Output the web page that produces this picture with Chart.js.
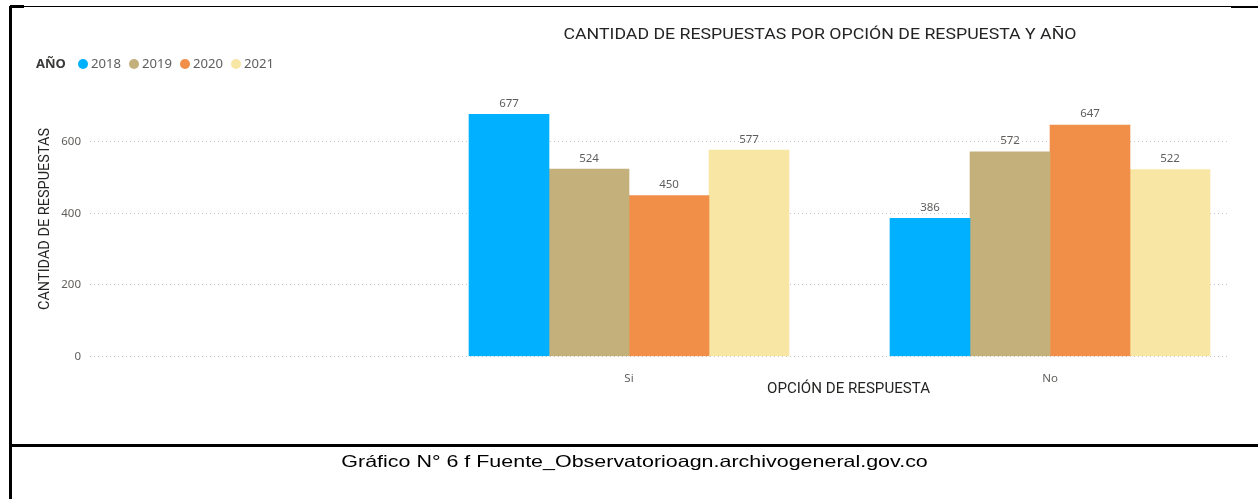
<!DOCTYPE html>
<html>
<head>
<meta charset="utf-8">
<title>Cantidad de respuestas por opción de respuesta y año</title>
<script src="https://cdn.jsdelivr.net/npm/chart.js@4.4.0/dist/chart.umd.min.js"></script>
<style>
	body { margin: 0; background: #fff; }
	#hoja { position: relative; width: 1258px; height: 499px; overflow: hidden; }
	#canvas { position: absolute; left: 0; top: 0; }
	.linea { position: absolute; background: #000; }
	#pie { position: absolute; left: 12px; width: 1246px; top: 452px; text-align: center; }
	#pie span { display: inline-block; transform: scaleX(1.3);
		font-family: "Liberation Sans", Arial, sans-serif; font-size: 16.5px; color: #000; }
</style>
</head>
<body>
<div id="hoja">
	<canvas id="canvas" width="1258" height="499"></canvas>
	<div class="linea" style="left:10px; top:6px; width:1248px; height:1px;"></div>
	<div class="linea" style="left:10px; top:5px; width:14px; height:3px;"></div>
	<div class="linea" style="left:1231px; top:6px; width:27px; height:2px;"></div>
	<div class="linea" style="left:9px; top:6px; width:3px; height:493px;"></div>
	<div class="linea" style="left:10px; top:444px; width:1248px; height:3px;"></div>
	<div id="pie"><span>Gráfico N° 6 f Fuente_Observatorioagn.archivogeneral.gov.co</span></div>
</div>
<script>
// datos
const opciones = ['Si', 'No'];
const anios = ['2018', '2019', '2020', '2021'];
const resp2018 = [677, 386];
const resp2019 = [524, 572];
const resp2020 = [450, 647];
const resp2021 = [577, 522];
const colores = ['#01B0FF', '#C4B07B', '#F18F49', '#F8E7A4'];

const tituloGrafico = 'CANTIDAD DE RESPUESTAS POR OPCIÓN DE RESPUESTA Y AÑO';
const tituloX = 'OPCIÓN DE RESPUESTA';
const tituloY = 'CANTIDAD DE RESPUESTAS';
const tituloLeyenda = 'AÑO';

const fuenteUI = '"Segoe UI", "Noto Sans", "Open Sans", sans-serif';
const fuenteDIN = 'Roboto, "DejaVu Sans", sans-serif';

// cada opcion va en x = 1, 2, ...
function serie(valores) {
	return valores.map(function(v, i) { return { x: i + 1, y: v }; });
}

const series = [resp2018, resp2019, resp2020, resp2021];
const datasets = anios.map(function(a, i) {
	return {
		label: a,
		data: serie(series[i]),
		backgroundColor: colores[i],
		borderWidth: 0,
		barThickness: 80
	};
});

// texto estirado al ancho que tiene en la imagen
function textoAncho(ctx, texto, x, y, ancho, giro) {
	const w = ctx.measureText(texto).width;
	ctx.save();
	ctx.translate(x, y);
	if (giro) ctx.rotate(giro);
	ctx.scale(ancho / w, 1);
	ctx.fillText(texto, 0, 0);
	ctx.restore();
}

// titulos, leyenda y etiquetas de valor
const textos = {
	id: 'textos',
	afterDraw: function(chart) {
		const ctx = chart.ctx;
		ctx.save();

		// titulo
		ctx.fillStyle = '#252423';
		ctx.font = '15.5px ' + fuenteDIN;
		ctx.textAlign = 'center';
		ctx.textBaseline = 'middle';
		textoAncho(ctx, tituloGrafico, 820, 35, 513);

		// titulos de los ejes
		ctx.font = '14px ' + fuenteDIN;
		textoAncho(ctx, tituloX, 848.5, 389, 163);
		textoAncho(ctx, tituloY, 45, 219, 182, -Math.PI / 2);

		// leyenda
		ctx.textAlign = 'left';
		ctx.font = 'bold 13px ' + fuenteUI;
		ctx.fillStyle = '#3b3a39';
		ctx.fillText(tituloLeyenda, 36, 64);
		let x = 78;
		ctx.font = '13px ' + fuenteUI;
		chart.data.datasets.forEach(function(ds) {
			ctx.fillStyle = ds.backgroundColor;
			ctx.beginPath();
			ctx.arc(x + 5, 64, 5, 0, Math.PI * 2);
			ctx.fill();
			ctx.fillStyle = '#605E5C';
			textoAncho(ctx, ds.label, x + 13, 64, 30);
			x += 13 + 30 + 8;
		});

		// etiquetas de valor
		ctx.textAlign = 'center';
		ctx.textBaseline = 'bottom';
		ctx.font = '11.5px ' + fuenteUI;
		ctx.fillStyle = '#605E5C';
		chart.data.datasets.forEach(function(ds, i) {
			chart.getDatasetMeta(i).data.forEach(function(bar, j) {
				ctx.fillText(ds.data[j].y, bar.x, bar.y - 5);
			});
		});
		ctx.restore();
	}
};

const ctx = document.getElementById('canvas').getContext('2d');
window.myBar = new Chart(ctx, {
	type: 'bar',
	data: { datasets: datasets },
	options: {
		responsive: false,
		animation: false,
		layout: { padding: { left: 0, right: 30, top: 106, bottom: 0 } },
		plugins: {
			legend: { display: false },
			title: { display: false },
			tooltip: { enabled: false }
		},
		scales: {
			x: {
				type: 'linear',
				offset: false,
				min: -0.2803,
				max: 2.4228,
				grid: { display: false, offset: false },
				border: { display: false },
				ticks: {
					stepSize: 1,
					includeBounds: false,
					padding: 7,
					color: '#605E5C',
					font: { family: fuenteUI, size: 11.5 },
					callback: function(v) { return opciones[v - 1] || ''; }
				},
				afterFit: function(scale) { scale.height = 142.5; }
			},
			y: {
				min: 0,
				max: 700,
				grid: { color: '#C8C6C4', drawTicks: false },
				border: { display: false, dash: [1, 3] },
				ticks: {
					stepSize: 200,
					includeBounds: false,
					padding: 9,
					color: '#605E5C',
					font: { family: fuenteUI, size: 11.5 }
				},
				afterFit: function(scale) { scale.width = 90; }
			}
		}
	},
	plugins: [textos]
});
</script>
</body>
</html>
